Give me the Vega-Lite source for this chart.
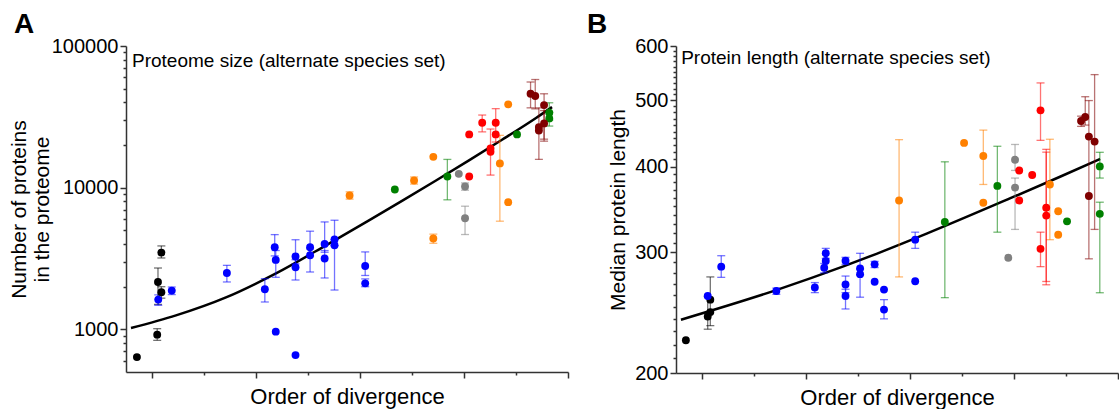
{
  "$schema": "https://vega.github.io/schema/vega-lite/v6.json",
  "padding": {"left": 8, "top": 11, "right": 0, "bottom": 0},
  "config": {
    "font": "Liberation Sans",
    "view": {"stroke": null},
    "axis": {"domainColor": "#333", "tickColor": "#333", "domainWidth": 1.5, "tickWidth": 1.5, "labelFont": "Liberation Sans", "labelFontSize": 20, "labelColor": "#000", "titleFont": "Liberation Sans", "titleFontSize": 21, "titleFontWeight": "normal", "titleColor": "#000", "grid": false},
    "concat": {"spacing": 18}
  },
  "datasets": {
    "ptsA": [
      {"g": "black", "x": -0.29, "y": 637},
      {"g": "black", "x": 0.10, "y": 917, "lo": 836, "hi": 1011},
      {"g": "black", "x": 0.115, "y": 2159, "lo": 1500, "hi": 2710},
      {"g": "black", "x": 0.18, "y": 1826, "lo": 1660, "hi": 2000},
      {"g": "black", "x": 0.18, "y": 3483, "lo": 3190, "hi": 3880},
      {"g": "blue", "x": 0.12, "y": 1622, "lo": 1480, "hi": 1750},
      {"g": "blue", "x": 0.38, "y": 1877, "lo": 1760, "hi": 1990},
      {"g": "blue", "x": 1.44, "y": 2500, "lo": 2160, "hi": 2830},
      {"g": "blue", "x": 2.17, "y": 1918, "lo": 1560, "hi": 2280},
      {"g": "blue", "x": 2.36, "y": 3798, "lo": 3300, "hi": 4663},
      {"g": "blue", "x": 2.38, "y": 3090, "lo": 2330, "hi": 3600},
      {"g": "blue", "x": 2.38, "y": 963},
      {"g": "blue", "x": 2.76, "y": 3265, "lo": 2900, "hi": 4290},
      {"g": "blue", "x": 2.76, "y": 2742, "lo": 2230, "hi": 3100},
      {"g": "blue", "x": 2.76, "y": 658},
      {"g": "blue", "x": 3.04, "y": 3798, "lo": 3300, "hi": 4930},
      {"g": "blue", "x": 3.04, "y": 3334, "lo": 2540, "hi": 3700},
      {"g": "blue", "x": 3.32, "y": 4010, "lo": 3500, "hi": 5730},
      {"g": "blue", "x": 3.32, "y": 3160, "lo": 2305, "hi": 3600},
      {"g": "blue", "x": 3.51, "y": 4306, "lo": 3900, "hi": 5890},
      {"g": "blue", "x": 3.51, "y": 3920, "lo": 1895, "hi": 4300},
      {"g": "blue", "x": 4.10, "y": 2800, "lo": 2400, "hi": 3520},
      {"g": "blue", "x": 4.10, "y": 2113, "lo": 2000, "hi": 2270},
      {"g": "orange", "x": 3.80, "y": 8810, "lo": 8300, "hi": 9350},
      {"g": "orange", "x": 5.41, "y": 4375, "lo": 4050, "hi": 4700},
      {"g": "orange", "x": 5.04, "y": 11240, "lo": 10600, "hi": 11900},
      {"g": "orange", "x": 5.41, "y": 16510},
      {"g": "orange", "x": 6.69, "y": 14830, "lo": 5800, "hi": 23400},
      {"g": "orange", "x": 6.85, "y": 38740},
      {"g": "orange", "x": 6.85, "y": 7900},
      {"g": "green", "x": 4.67, "y": 9706},
      {"g": "green", "x": 5.68, "y": 11990, "lo": 8210, "hi": 15830},
      {"g": "green", "x": 7.02, "y": 23770},
      {"g": "green", "x": 7.64, "y": 33780, "lo": 30000, "hi": 39740},
      {"g": "green", "x": 7.64, "y": 30840, "lo": 27220, "hi": 34000},
      {"g": "gray", "x": 5.90, "y": 12520},
      {"g": "gray", "x": 6.02, "y": 10200, "lo": 9600, "hi": 10800},
      {"g": "gray", "x": 6.02, "y": 6088, "lo": 4670, "hi": 7400},
      {"g": "red", "x": 6.10, "y": 23770},
      {"g": "red", "x": 6.10, "y": 11990},
      {"g": "red", "x": 6.35, "y": 28720, "lo": 24770, "hi": 32560},
      {"g": "red", "x": 6.61, "y": 28720, "lo": 21000, "hi": 36120},
      {"g": "red", "x": 6.61, "y": 23770},
      {"g": "red", "x": 6.51, "y": 18920, "lo": 12270, "hi": 25940},
      {"g": "red", "x": 6.51, "y": 17910},
      {"g": "darkred", "x": 7.28, "y": 46000, "lo": 36600, "hi": 55700},
      {"g": "darkred", "x": 7.37, "y": 44340, "lo": 36000, "hi": 58000},
      {"g": "darkred", "x": 7.54, "y": 38270, "lo": 21300, "hi": 46000},
      {"g": "darkred", "x": 7.44, "y": 26770, "lo": 15840, "hi": 36600},
      {"g": "darkred", "x": 7.44, "y": 25350},
      {"g": "darkred", "x": 7.54, "y": 28430, "lo": 22000, "hi": 35000}
    ],
    "fitA": [
      {"x": -0.404, "y": 1021}, {"x": 0.4615, "y": 1254}, {"x": 1.423, "y": 1680},
      {"x": 2.385, "y": 2483}, {"x": 3.346, "y": 3917}, {"x": 4.173, "y": 5874},
      {"x": 4.808, "y": 8068}, {"x": 5.462, "y": 11240}, {"x": 6.096, "y": 15590},
      {"x": 6.731, "y": 21770}, {"x": 7.385, "y": 31040}, {"x": 7.692, "y": 37060}
    ],
    "ptsB": [
      {"g": "black", "x": -0.31, "y": 223.3},
      {"g": "black", "x": 0.11, "y": 241.8, "lo": 231.7, "hi": 258.6},
      {"g": "black", "x": 0.16, "y": 245.4, "lo": 234.5, "hi": 276.2},
      {"g": "black", "x": 0.16, "y": 255.9},
      {"g": "blue", "x": 0.11, "y": 259},
      {"g": "blue", "x": 0.37, "y": 285.9, "lo": 275.8, "hi": 296.6},
      {"g": "blue", "x": 1.43, "y": 263.4, "lo": 260.5, "hi": 266},
      {"g": "blue", "x": 2.17, "y": 266.5, "lo": 262, "hi": 271},
      {"g": "blue", "x": 2.38, "y": 299.1, "lo": 294, "hi": 304},
      {"g": "blue", "x": 2.38, "y": 291.4},
      {"g": "blue", "x": 2.35, "y": 284.8, "lo": 280, "hi": 289},
      {"g": "blue", "x": 2.76, "y": 291.6, "lo": 288, "hi": 295},
      {"g": "blue", "x": 2.76, "y": 269.2, "lo": 262, "hi": 277},
      {"g": "blue", "x": 2.76, "y": 259, "lo": 248, "hi": 265},
      {"g": "blue", "x": 3.04, "y": 284.3, "lo": 278, "hi": 299},
      {"g": "blue", "x": 3.04, "y": 278.8, "lo": 258, "hi": 283},
      {"g": "blue", "x": 3.32, "y": 288.1, "lo": 285, "hi": 291},
      {"g": "blue", "x": 3.32, "y": 271.7},
      {"g": "blue", "x": 3.50, "y": 264.7},
      {"g": "blue", "x": 3.50, "y": 247.5, "lo": 239.9, "hi": 255.9},
      {"g": "blue", "x": 4.10, "y": 313, "lo": 304, "hi": 321},
      {"g": "blue", "x": 4.10, "y": 272.2},
      {"g": "orange", "x": 3.79, "y": 357.1, "lo": 276.2, "hi": 438},
      {"g": "orange", "x": 5.04, "y": 433.3},
      {"g": "orange", "x": 5.41, "y": 414.6, "lo": 376.8, "hi": 452.3},
      {"g": "orange", "x": 5.41, "y": 354.3},
      {"g": "orange", "x": 6.69, "y": 376.7, "lo": 313, "hi": 438.6},
      {"g": "orange", "x": 6.85, "y": 344.4},
      {"g": "orange", "x": 6.85, "y": 318.2},
      {"g": "green", "x": 4.67, "y": 332.2, "lo": 257.6, "hi": 406.6},
      {"g": "green", "x": 5.68, "y": 375, "lo": 321, "hi": 428.4},
      {"g": "green", "x": 7.02, "y": 332.9},
      {"g": "green", "x": 7.65, "y": 400.4, "lo": 385, "hi": 419.8},
      {"g": "green", "x": 7.65, "y": 341.4, "lo": 261.9, "hi": 355},
      {"g": "gray", "x": 5.89, "y": 294.6},
      {"g": "gray", "x": 6.02, "y": 409.4, "lo": 395, "hi": 431},
      {"g": "gray", "x": 6.02, "y": 372.9, "lo": 324, "hi": 385},
      {"g": "red", "x": 6.10, "y": 394.9},
      {"g": "red", "x": 6.10, "y": 357.1},
      {"g": "red", "x": 6.35, "y": 389},
      {"g": "red", "x": 6.51, "y": 483.4, "lo": 437, "hi": 530},
      {"g": "red", "x": 6.51, "y": 303.5, "lo": 285.9, "hi": 321},
      {"g": "red", "x": 6.62, "y": 348.4, "lo": 269, "hi": 424},
      {"g": "red", "x": 6.62, "y": 339.4, "lo": 272, "hi": 420},
      {"g": "darkred", "x": 7.29, "y": 466.3, "lo": 458, "hi": 474},
      {"g": "darkred", "x": 7.37, "y": 472.6, "lo": 460, "hi": 506},
      {"g": "darkred", "x": 7.44, "y": 442.6, "lo": 293.5, "hi": 499.5},
      {"g": "darkred", "x": 7.55, "y": 435.2, "lo": 324, "hi": 545},
      {"g": "darkred", "x": 7.44, "y": 362.5}
    ],
    "fitB": [
      {"x": -0.405, "y": 239.2}, {"x": 1.427, "y": 264.2}, {"x": 2.719, "y": 286.1},
      {"x": 3.356, "y": 298.5}, {"x": 4.32, "y": 319.4}, {"x": 5.92, "y": 359.5},
      {"x": 6.885, "y": 386.7}, {"x": 7.656, "y": 410.6}
    ]
  },
  "hconcat": [
    {
      "width": 442,
      "height": 326,
      "title": {"text": "A", "anchor": "start", "frame": "bounds", "fontSize": 28, "fontWeight": "bold", "font": "Liberation Sans", "color": "#000", "offset": -3, "dx": 6},
      "encoding": {
        "x": {"type": "quantitative", "scale": {"domain": [-0.5, 8], "nice": false, "zero": false},
          "axis": {"title": "Order of divergence", "titleFontSize": 22, "values": [0, 1, 2, 3, 4, 5, 6, 7, 8], "labels": false, "tickSize": {"condition": {"test": "datum.value % 2 == 0", "value": 6}, "value": 3}, "titlePadding": 8}},
        "y": {"type": "quantitative", "scale": {"type": "log", "domain": [500, 100000], "nice": false},
          "axis": {"title": ["Number of proteins", "in the proteome"], "titleLineHeight": 23, "values": [600, 700, 800, 900, 1000, 2000, 3000, 4000, 5000, 6000, 7000, 8000, 9000, 10000, 20000, 30000, 40000, 50000, 60000, 70000, 80000, 90000, 100000], "format": "d", "labelExpr": "datum.value == 1000 || datum.value == 10000 || datum.value == 100000 ? datum.label : ''", "tickSize": {"condition": {"test": "datum.value == 1000 || datum.value == 10000 || datum.value == 100000", "value": 6}, "value": 3}, "labelPadding": 2, "minExtent": 72, "maxExtent": 72, "titlePadding": 2}}
      },
      "layer": [
        {"data": {"name": "fitA"}, "mark": {"type": "line", "color": "#000", "strokeWidth": 2.5, "interpolate": "monotone"},
         "encoding": {"x": {"field": "x", "type": "quantitative"}, "y": {"field": "y", "type": "quantitative"}}},
        {"data": {"name": "ptsA"}, "transform": [{"filter": "isValid(datum.lo)"}],
         "mark": {"type": "errorbar", "ticks": {"opacity": 0.55, "size": 8}, "rule": {"opacity": 0.55}, "thickness": 1.3},
         "encoding": {"x": {"field": "x", "type": "quantitative"}, "y": {"field": "lo", "type": "quantitative"}, "y2": {"field": "hi"},
           "color": {"field": "g", "type": "nominal", "legend": null, "scale": {"domain": ["black", "blue", "orange", "green", "gray", "red", "darkred"], "range": ["#000000", "#0000ff", "#ff8000", "#008000", "#808080", "#ff0000", "#800000"]}}}},
        {"data": {"name": "ptsA"}, "mark": {"type": "point", "filled": true, "opacity": 1, "size": 62},
         "encoding": {"x": {"field": "x", "type": "quantitative"}, "y": {"field": "y", "type": "quantitative"},
           "color": {"field": "g", "type": "nominal", "legend": null}}},
        {"data": {"values": [{"t": "Proteome size (alternate species set)"}]}, "mark": {"type": "text", "align": "left", "baseline": "alphabetic", "fontSize": 19, "font": "Liberation Sans", "color": "#000"},
         "encoding": {"text": {"field": "t"}, "x": {"datum": -0.385}, "y": {"datum": 71000}}}
      ]
    },
    {
      "width": 442,
      "height": 327,
      "title": {"text": "B", "anchor": "start", "frame": "bounds", "fontSize": 28, "fontWeight": "bold", "font": "Liberation Sans", "color": "#000", "offset": -3, "dx": -20},
      "encoding": {
        "x": {"type": "quantitative", "scale": {"domain": [-0.5, 8], "nice": false, "zero": false},
          "axis": {"title": "Order of divergence", "titleFontSize": 22, "values": [0, 1, 2, 3, 4, 5, 6, 7, 8], "labels": false, "tickSize": {"condition": {"test": "datum.value % 2 == 0", "value": 6}, "value": 3}, "titlePadding": 8}},
        "y": {"type": "quantitative", "scale": {"type": "log", "domain": [200, 600], "nice": false},
          "axis": {"title": "Median protein length", "values": [200, 210, 220, 230, 240, 250, 260, 270, 280, 290, 300, 310, 320, 330, 340, 350, 360, 370, 380, 390, 400, 410, 420, 430, 440, 450, 460, 470, 480, 490, 500, 510, 520, 530, 540, 550, 560, 570, 580, 590, 600], "format": "d", "labelExpr": "datum.value % 100 == 0 ? datum.label : ''", "tickSize": {"condition": {"test": "datum.value % 100 == 0", "value": 6}, "value": 3}, "labelPadding": 2, "minExtent": 44, "maxExtent": 44, "titlePadding": 4}}
      },
      "layer": [
        {"data": {"name": "fitB"}, "mark": {"type": "line", "color": "#000", "strokeWidth": 2.5, "interpolate": "monotone"},
         "encoding": {"x": {"field": "x", "type": "quantitative"}, "y": {"field": "y", "type": "quantitative"}}},
        {"data": {"name": "ptsB"}, "transform": [{"filter": "isValid(datum.lo)"}],
         "mark": {"type": "errorbar", "ticks": {"opacity": 0.55, "size": 8}, "rule": {"opacity": 0.55}, "thickness": 1.3},
         "encoding": {"x": {"field": "x", "type": "quantitative"}, "y": {"field": "lo", "type": "quantitative"}, "y2": {"field": "hi"},
           "color": {"field": "g", "type": "nominal", "legend": null, "scale": {"domain": ["black", "blue", "orange", "green", "gray", "red", "darkred"], "range": ["#000000", "#0000ff", "#ff8000", "#008000", "#808080", "#ff0000", "#800000"]}}}},
        {"data": {"name": "ptsB"}, "mark": {"type": "point", "filled": true, "opacity": 1, "size": 62},
         "encoding": {"x": {"field": "x", "type": "quantitative"}, "y": {"field": "y", "type": "quantitative"},
           "color": {"field": "g", "type": "nominal", "legend": null}}},
        {"data": {"values": [{"t": "Protein length (alternate species set)"}]}, "mark": {"type": "text", "align": "left", "baseline": "alphabetic", "fontSize": 19, "font": "Liberation Sans", "color": "#000"},
         "encoding": {"text": {"field": "t"}, "x": {"datum": -0.4}, "y": {"datum": 564}}}
      ]
    }
  ]
}
